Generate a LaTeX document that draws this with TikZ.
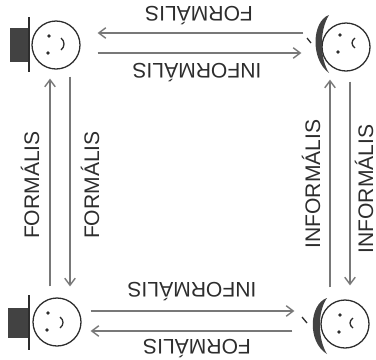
\documentclass[tikz,border=0pt]{standalone}
\usepackage{fontspec}
\setmainfont{Liberation Sans}
\usetikzlibrary{arrows.meta}
\definecolor{ink}{RGB}{45,45,45}
\definecolor{wire}{RGB}{120,120,120}

\begin{document}
\begin{tikzpicture}[x=0.03cm,y=-0.03cm,
  face/.style={circle,draw=ink,line width=1.1pt,minimum size=1.44cm,inner sep=0pt},
  hat/.style={fill=ink!90},
  brim/.style={draw=ink,line width=1.1pt},
  eye/.style={fill=ink},
  arr/.style={-{Straight Barb[length=6pt,width=9pt]},draw=wire,line width=1.2pt},
  lbl/.style={font=\fontsize{18}{20}\selectfont,text=ink,inner sep=0pt}
]
  \useasboundingbox (0,0) rectangle (376,359);

  \node[face] (tl) at (56,45) {};
  \node[face] (tr) at (346,47) {};
  \node[face] (bl) at (57,322) {};
  \node[face] (br) at (345,324) {};

  % hats and faces
  \begin{scope}[shift={(tl.center)}]
    \fill[hat] (-46,-17) rectangle (-26,17);
    \draw[brim] (-27,-28) -- (-27,27);
    \fill[eye] (-7,-9) circle (1.8) (-8,8) circle (1.8);
    \draw[brim] (5,-7) .. controls (9,-4) and (9,2) .. (5,5);
  \end{scope}
  \begin{scope}[shift={(bl.center)}]
    \fill[hat] (-49,-14) rectangle (-28,16);
    \draw[brim] (-28,-27) -- (-28,28);
    \fill[eye] (-9,-9) circle (1.8) (-10,8) circle (1.8);
    \draw[brim] (3,-5) .. controls (7,-2) and (7,3) .. (3,6);
  \end{scope}
  \begin{scope}[shift={(tr.center)}]
    \fill[hat] (-17,-32) .. controls (-34,-26) and (-36,12) .. (-17,26)
      .. controls (-26,12) and (-27,-16) .. cycle;
    \draw[brim] (-39,-9) -- (-35,-4);
    \fill[eye] (-6,-12) circle (1.8) (-8,5) circle (1.8);
    \draw[brim] (9,-9) .. controls (5,-6) and (5,-2) .. (9,1);
  \end{scope}
  \begin{scope}[shift={(br.center)}]
    \fill[hat] (-18,-26) .. controls (-36,-20) and (-38,18) .. (-18,30)
      .. controls (-27,16) and (-28,-12) .. cycle;
    \draw[brim] (-43,-7) -- (-38,-1);
    \fill[eye] (-5,-9) circle (1.8) (-6,8) circle (1.8);
    \draw[brim] (8,-6) .. controls (4,-3) and (4,1) .. (8,4);
  \end{scope}

  % connectors
  \draw[arr] ([shift={(-18,-14)}]tr.west) -- ([shift={(17,-12)}]tl.east);
  \draw[arr] ([shift={(17,8)}]tl.east) -- ([shift={(-20,6)}]tr.west);
  \draw[arr] ([shift={(9,-11)}]bl.east) -- ([shift={(-26,-13)}]br.west);
  \draw[arr] ([shift={(-28,7)}]br.west) -- ([shift={(9,9)}]bl.east);
  \draw[arr] ([shift={(-7,-11)}]bl.north) -- ([shift={(-6,9)}]tl.south);
  \draw[arr] ([shift={(14,7)}]tl.south) -- ([shift={(13,-11)}]bl.north);
  \draw[arr] ([shift={(-15,-12)}]br.north) -- ([shift={(-16,8)}]tr.south);
  \draw[arr] ([shift={(4,10)}]tr.south) -- ([shift={(5,-14)}]br.north);

  \node[lbl,rotate=180] (topF) at (199,16) {FORMÁLIS};
  \node[lbl,rotate=180] (topI) at (197,73) {INFORMÁLIS};
  \node[lbl,rotate=180] (botI) at (192,292) {INFORMÁLIS};
  \node[lbl,rotate=180] (botF) at (197,349) {FORMÁLIS};
  \node[lbl,rotate=90] (leftF) at (30,185) {FORMÁLIS};
  \node[lbl,rotate=90] (midF) at (90,185) {FORMÁLIS};
  \node[lbl,rotate=90] (midI) at (311,184) {INFORMÁLIS};
  \node[lbl,rotate=90] (rightI) at (364,189) {INFORMÁLIS};
\end{tikzpicture}
\end{document}
